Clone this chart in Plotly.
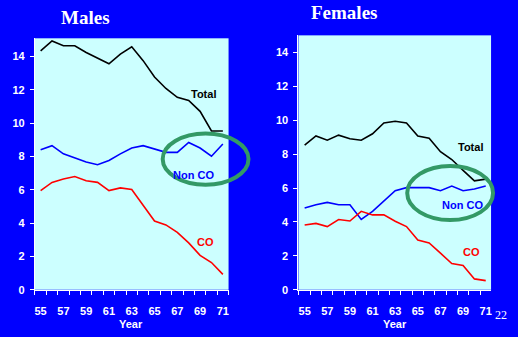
import plotly.graph_objects as go
from plotly.subplots import make_subplots

years = list(range(55, 72))
tick_labels = ["55", "57", "59", "61", "63", "65", "67", "69", "71"]

male_total = [14.33, 14.92, 14.63, 14.63, 14.23, 13.88, 13.55, 14.13, 14.57, 13.74, 12.76, 12.07, 11.54, 11.35, 10.70, 9.52, 9.52]
male_nonco = [8.40, 8.64, 8.15, 7.89, 7.66, 7.50, 7.75, 8.15, 8.50, 8.64, 8.44, 8.24, 8.24, 8.83, 8.50, 8.01, 8.74]
male_co = [5.95, 6.44, 6.64, 6.79, 6.54, 6.44, 5.95, 6.11, 6.01, 5.10, 4.12, 3.89, 3.44, 2.81, 2.06, 1.63, 0.92]

female_total = [8.54, 9.08, 8.83, 9.13, 8.92, 8.83, 9.21, 9.85, 9.95, 9.85, 9.08, 8.94, 8.15, 7.69, 7.05, 6.43, 6.53]
female_nonco = [4.83, 5.02, 5.16, 5.02, 5.02, 4.15, 4.63, 5.25, 5.85, 6.03, 6.03, 6.03, 5.85, 6.12, 5.85, 5.95, 6.12]
female_co = [3.82, 3.92, 3.73, 4.15, 4.06, 4.63, 4.42, 4.42, 4.04, 3.73, 2.94, 2.76, 2.16, 1.55, 1.43, 0.64, 0.54]

BG = "#0000FF"
PLOT_BG = "#CCFFFF"
W, H = 518, 337
SANS = "Arial, Liberation Sans, sans-serif"
SERIF = "Times New Roman, Liberation Serif, serif"

fig = make_subplots(rows=1, cols=2)

def add_series(col, total, nonco, co):
    fig.add_trace(go.Scatter(x=years, y=total, mode="lines", line=dict(color="black", width=1.6), showlegend=False, hoverinfo="skip"), row=1, col=col)
    fig.add_trace(go.Scatter(x=years, y=nonco, mode="lines", line=dict(color="#0000FF", width=1.6), showlegend=False, hoverinfo="skip"), row=1, col=col)
    fig.add_trace(go.Scatter(x=years, y=co, mode="lines", line=dict(color="#FF0000", width=1.6), showlegend=False, hoverinfo="skip"), row=1, col=col)

add_series(1, male_total, male_nonco, male_co)
add_series(2, female_total, female_nonco, female_co)

def px_x(p):
    return p / W

def px_y(p):
    return 1 - p / H

tick_font = dict(family=SANS, size=11, color="white")
ytick_vals = [0, 2, 4, 6, 8, 10, 12, 14]

def xaxis_def(domain, rng):
    return dict(domain=domain, range=rng, showgrid=False, zeroline=False,
                showline=True, linecolor="white", linewidth=1,
                tickfont=tick_font, tickcolor="white", ticks="outside", ticklen=0,
                ticklabelstandoff=11,
                tickmode="array", tickvals=[int(t) for t in tick_labels],
                ticktext=[f"<b>{t}</b>" for t in tick_labels],
                minor=dict(tickmode="array", tickvals=[y - 0.5 for y in years] + [71.5],
                           ticks="outside", ticklen=4, tickcolor="white", showgrid=False))

def yaxis_def(domain, rng):
    return dict(domain=domain, range=rng, showgrid=False, zeroline=False,
                showline=True, linecolor="white", linewidth=1,
                tickfont=tick_font, tickcolor="white", ticks="outside", ticklen=4,
                ticklabelstandoff=3,
                tickmode="array", tickvals=ytick_vals,
                ticktext=[f"<b>{v}</b>" for v in ytick_vals])

fig.update_layout(
    width=W, height=H,
    paper_bgcolor=BG, plot_bgcolor=PLOT_BG,
    margin=dict(l=0, r=0, t=0, b=0),
    showlegend=False,
    xaxis=xaxis_def([px_x(35), px_x(229)], [54.5, 71.5]),
    yaxis=yaxis_def([px_y(295), px_y(39)], [0, 15.08]),
    xaxis2=xaxis_def([px_x(299), px_x(492)], [54.45, 71.47]),
    yaxis2=yaxis_def([px_y(295), px_y(36)], [0, 15.02]),
)

annotations = [
    dict(text="<b>Males</b>", x=px_x(86), y=px_y(18), font=dict(family=SERIF, size=19, color="white")),
    dict(text="<b>Females</b>", x=px_x(345), y=px_y(13), font=dict(family=SERIF, size=19, color="white")),
    dict(text="<b>Year</b>", x=px_x(131), y=px_y(330), font=dict(family=SANS, size=11, color="white")),
    dict(text="<b>Year</b>", x=px_x(396), y=px_y(330), font=dict(family=SANS, size=11, color="white")),
    dict(text="22", x=px_x(502), y=px_y(321), font=dict(family=SERIF, size=12, color="white")),
    dict(text="<b>Total</b>", x=px_x(204), y=px_y(96), font=dict(family=SANS, size=11, color="black")),
    dict(text="<b>Non CO</b>", x=px_x(194), y=px_y(178), font=dict(family=SANS, size=11, color="#0000FF")),
    dict(text="<b>CO</b>", x=px_x(206), y=px_y(246), font=dict(family=SANS, size=11, color="#FF0000")),
    dict(text="<b>Total</b>", x=px_x(471), y=px_y(150), font=dict(family=SANS, size=11, color="black")),
    dict(text="<b>Non CO</b>", x=px_x(463), y=px_y(209), font=dict(family=SANS, size=11, color="#0000FF")),
    dict(text="<b>CO</b>", x=px_x(472), y=px_y(257), font=dict(family=SANS, size=11, color="#FF0000")),
]
for a in annotations:
    a.update(xref="paper", yref="paper", showarrow=False, xanchor="center", yanchor="middle")
fig.update_layout(annotations=annotations)

fig.add_shape(type="circle", xref="paper", yref="paper",
              x0=px_x(163), x1=px_x(249), y0=px_y(188), y1=px_y(136),
              line=dict(color="#339966", width=4))
fig.add_shape(type="circle", xref="paper", yref="paper",
              x0=px_x(408), x1=px_x(494), y0=px_y(224), y1=px_y(169),
              line=dict(color="#339966", width=4))

fig.write_html("out.html",
               config={"displayModeBar": False, "staticPlot": True},
               post_script="document.body.style.margin='0';document.body.style.background='#0000FF';document.body.style.overflow='hidden';")
